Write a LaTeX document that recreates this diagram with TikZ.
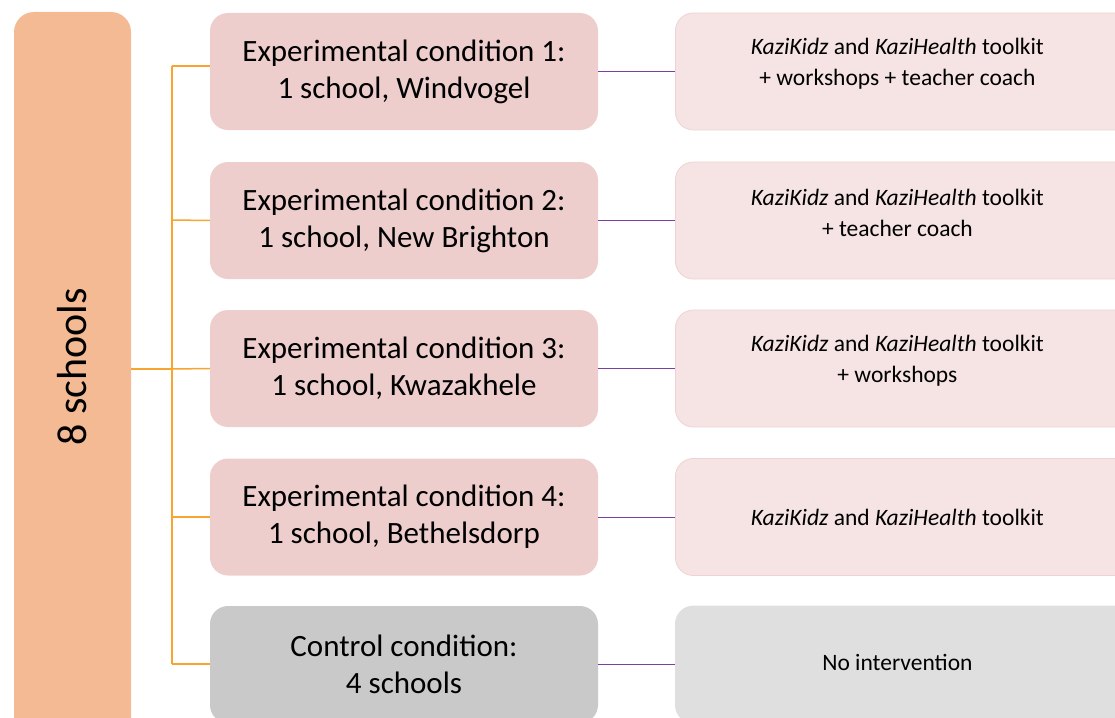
\documentclass[tikz,border=0pt]{standalone}
\usepackage{fontspec}
\setmainfont{Carlito}
\definecolor{leftfill}{HTML}{F4BA94}
\definecolor{midfill}{HTML}{EDCECC}
\definecolor{rightfill}{HTML}{F6E4E4}
\definecolor{rightdraw}{HTML}{F0D2D2}
\definecolor{ctrlfill}{HTML}{C9C9C9}
\definecolor{ctrlright}{HTML}{DFDFDF}
\definecolor{orangeline}{HTML}{F7A530}
\definecolor{purpleline}{HTML}{7A3FA0}
\newcommand{\rtext}[1]{\hspace*{-16pt}\parbox{380pt}{\centering\fontsize{23.5}{31}\selectfont #1}}
\begin{document}
\begin{tikzpicture}[x=1pt,y=-1pt,
  leftbox/.style={draw=none,fill=leftfill,rounded corners=20pt,minimum width=117pt,minimum height=760pt,inner sep=0pt},
  midbox/.style={draw=none,fill=midfill,rounded corners=18pt,minimum width=388pt,minimum height=117pt,align=center,font=\fontsize{31}{37}\selectfont,inner sep=0pt},
  rightbox/.style={draw=rightdraw,line width=0.8pt,fill=rightfill,rounded corners=18pt,minimum width=460pt,minimum height=117pt,inner sep=0pt},
  oline/.style={draw=orangeline,line width=1.5pt},
  pline/.style={draw=purpleline,line width=1pt}]
\useasboundingbox (0,0) rectangle (1115,717);
\clip (0,0) rectangle (1115,717);
% left box
\node[leftbox] (L) at (72.5,392) {};
\node[rotate=90,font=\fontsize{42}{48}\selectfont] (Ltext) at (72.5,367) {8 schools};
% middle boxes
\node[midbox] (m1) at (404,71.5) {Experimental condition 1:\\1 school, Windvogel};
\node[midbox] (m2) at (404,220.5) {Experimental condition 2:\\1 school, New Brighton};
\node[midbox] (m3) at (404,368.5) {Experimental condition 3:\\1 school, Kwazakhele};
\node[midbox] (m4) at (404,517) {Experimental condition 4:\\1 school, Bethelsdorp};
\node[midbox,fill=ctrlfill] (m5) at (404,664.5) {Control condition:\\4 schools};
% right boxes
\node[rightbox,anchor=west] (r1) at (675,71.5) {\rtext{\vspace*{-15pt}\textit{KaziKidz} and \textit{KaziHealth} toolkit\\+ workshops + teacher coach}};
\node[rightbox,anchor=west] (r2) at (675,220.5) {\rtext{\vspace*{-15pt}\textit{KaziKidz} and \textit{KaziHealth} toolkit\\+ teacher coach}};
\node[rightbox,anchor=west] (r3) at (675,368.5) {\rtext{\vspace*{-15pt}\textit{KaziKidz} and \textit{KaziHealth} toolkit\\+ workshops}};
\node[rightbox,anchor=west] (r4) at (675,517) {\rtext{\textit{KaziKidz} and \textit{KaziHealth} toolkit}};
\node[rightbox,anchor=west,fill=ctrlright,draw=ctrlright] (r5) at (675,664.5) {\rtext{\raisebox{5pt}{No intervention}}};
% orange tree
\coordinate (tx1) at (172,66);
\coordinate (tx5) at (172,664);
\draw[oline] (tx1) -- (tx5);
\draw[oline] (L.east |- 0,369) -- (172,369);
\draw[oline] (tx1) -- (m1.west |- tx1);
\draw[oline] (172,220) -- (m2.west);
\draw[oline] (172,369) -- (m3.west);
\draw[oline] (172,517) -- (m4.west);
\draw[oline] (tx5) -- (m5.west |- tx5);
% purple connectors
\draw[pline] (m1.east) -- (r1.west);
\draw[pline] (m2.east) -- (r2.west);
\draw[pline] (m3.east) -- (r3.west);
\draw[pline] (m4.east) -- (r4.west);
\draw[pline] (m5.east) -- (r5.west);
\end{tikzpicture}
\end{document}
